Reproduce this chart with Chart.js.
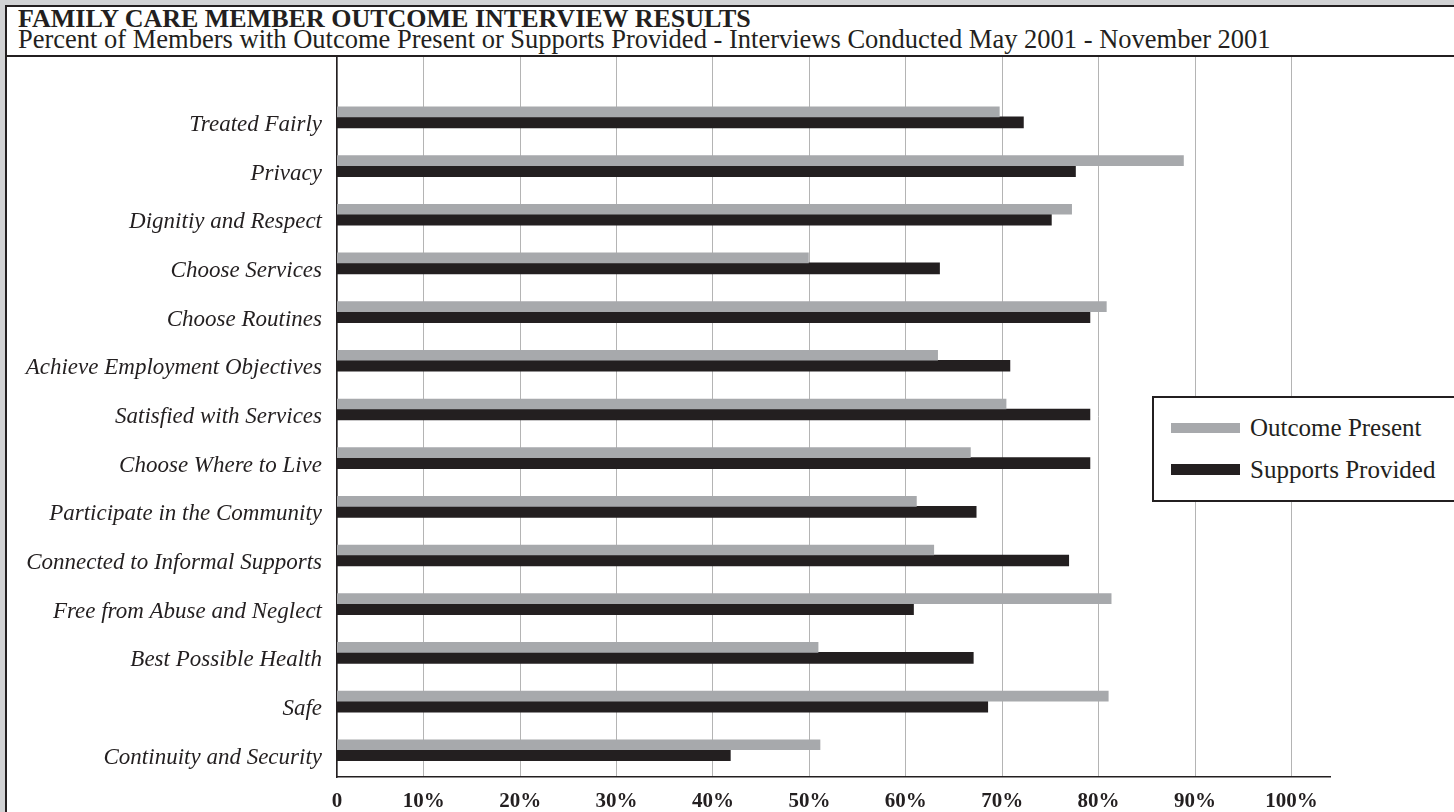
<!DOCTYPE html>
<html>
<head>
  <title>Family Care Member Outcome Interview Results</title>
  <script src="https://cdn.jsdelivr.net/npm/chart.js"></script>
  <style>
    body {
        margin: 0;
        background: #d1d2d4;
        font-family: 'Liberation Serif', serif;
        color: #231f20;
        overflow: hidden;
    }
    #panel {
        position: absolute;
        left: 5px; top: 5px;
        width: 1470px; height: 830px;
        background: #fff;
        border: 2px solid #231f20;
    }
    #title, #subtitle {
        position: absolute;
        left: 18px;
        line-height: 26px;
        white-space: nowrap;
    }
    #title { top: 6px; font-size: 26px; font-weight: bold; }
    #subtitle { top: 26px; font-size: 26.5px; }
    #rule {
        position: absolute;
        left: 7px; top: 55px;
        width: 1447px; height: 2px;
        background: #231f20;
    }
    #myChart {
        position: absolute;
        left: 0; top: 0;
    }
    #legend {
        position: absolute;
        left: 1152px; top: 396px;
        width: 310px; height: 102px;
        background: #fff;
        border: 2px solid #231f20;
    }
    .item {
        position: absolute;
        left: 17px;
        height: 25px;
        display: flex;
        align-items: center;
        font-size: 25px;
        white-space: nowrap;
    }
    .swatch {
        display: inline-block;
        width: 69px;
        margin-right: 10px;
    }
  </style>
</head>
<body>
  <div id="panel"></div>
  <div id="title">FAMILY CARE MEMBER OUTCOME INTERVIEW RESULTS</div>
  <div id="subtitle">Percent of Members with Outcome Present or Supports Provided - Interviews Conducted May 2001 - November 2001</div>
  <div id="rule"></div>
  <canvas id="myChart" width="1454" height="812"></canvas>
  <div id="legend"></div>

  <script>
    // categories, top to bottom
    const categories = [
        'Treated Fairly',
        'Privacy',
        'Dignitiy and Respect',
        'Choose Services',
        'Choose Routines',
        'Achieve Employment Objectives',
        'Satisfied with Services',
        'Choose Where to Live',
        'Participate in the Community',
        'Connected to Informal Supports',
        'Free from Abuse and Neglect',
        'Best Possible Health',
        'Safe',
        'Continuity and Security'
    ];

    // percent values
    const outcomePresent   = [69.7, 88.8, 77.2, 49.9, 80.8, 63.3, 70.4, 66.7, 61.1, 62.9, 81.3, 50.9, 81.0, 51.1];
    const supportsProvided = [72.2, 77.6, 75.1, 63.5, 79.1, 70.8, 79.1, 79.1, 67.3, 76.9, 60.8, 67.0, 68.5, 41.8];

    const tickValues = [0, 10, 20, 30, 40, 50, 60, 70, 80, 90, 100];
    const tickLabels = ['0', '10%', '20%', '30%', '40%', '50%', '60%', '70%', '80%', '90%', '100%'];

    // the vertical axis sits a little right of the true zero in the original
    const axisStart = 1;

    const ctx = document.getElementById('myChart').getContext('2d');
    const myChart = new Chart(ctx, {
        type: 'bar',
        data: {
            datasets: [{
                label: 'Outcome Present',
                data: categories.map((c, i) => ({ x: outcomePresent[i], y: i })),
                backgroundColor: '#a7a9ac',
                barThickness: 10
            }, {
                label: 'Supports Provided',
                data: categories.map((c, i) => ({ x: supportsProvided[i], y: i })),
                backgroundColor: '#231f20',
                barThickness: 11
            }]
        },
        options: {
            indexAxis: 'y',
            responsive: false,
            animation: false,
            layout: { padding: { top: 57, right: 124, left: 0, bottom: 0 } },
            plugins: {
                legend: { display: false },
                tooltip: { enabled: false }
            },
            scales: {
                x: {
                    type: 'linear',
                    min: axisStart,
                    max: 104,
                    z: 1,
                    afterBuildTicks: s => { s.ticks = tickValues.map(v => ({ value: Math.max(v, axisStart) })); },
                    afterFit: s => { s.height = 35; },
                    ticks: {
                        callback: (v, i) => tickLabels[i],
                        font: { family: 'Liberation Serif', size: 21, weight: 'bold' },
                        color: '#231f20',
                        padding: 12,
                        autoSkip: false,
                        maxRotation: 0
                    },
                    grid: { color: '#b4b4b4', lineWidth: 1, drawTicks: false },
                    border: { color: '#231f20', width: 1.5 }
                },
                y: {
                    type: 'linear',
                    reverse: true,
                    offset: false,
                    min: -1.23,
                    max: 13.56,
                    afterBuildTicks: s => { s.ticks = categories.map((c, i) => ({ value: i })); },
                    afterFit: s => { s.width = 337; },
                    ticks: {
                        callback: (v, i) => categories[i],
                        font: { family: 'Liberation Serif', size: 23, style: 'italic' },
                        color: '#231f20',
                        padding: 15,
                        labelOffset: 8,
                        autoSkip: false
                    },
                    grid: { display: false, drawTicks: false, offset: false },
                    border: { color: '#231f20', width: 1.5 }
                }
            }
        }
    });

    // legend box drawn in html from the datasets
    const legend = document.getElementById('legend');
    myChart.data.datasets.forEach((ds, i) => {
        const item = document.createElement('div');
        item.className = 'item';
        item.style.top = (17 + i * 42) + 'px';
        const sw = document.createElement('span');
        sw.className = 'swatch';
        sw.style.height = ds.barThickness + 'px';
        sw.style.background = ds.backgroundColor;
        item.appendChild(sw);
        item.appendChild(document.createTextNode(ds.label));
        legend.appendChild(item);
    });
  </script>
</body>
</html>
